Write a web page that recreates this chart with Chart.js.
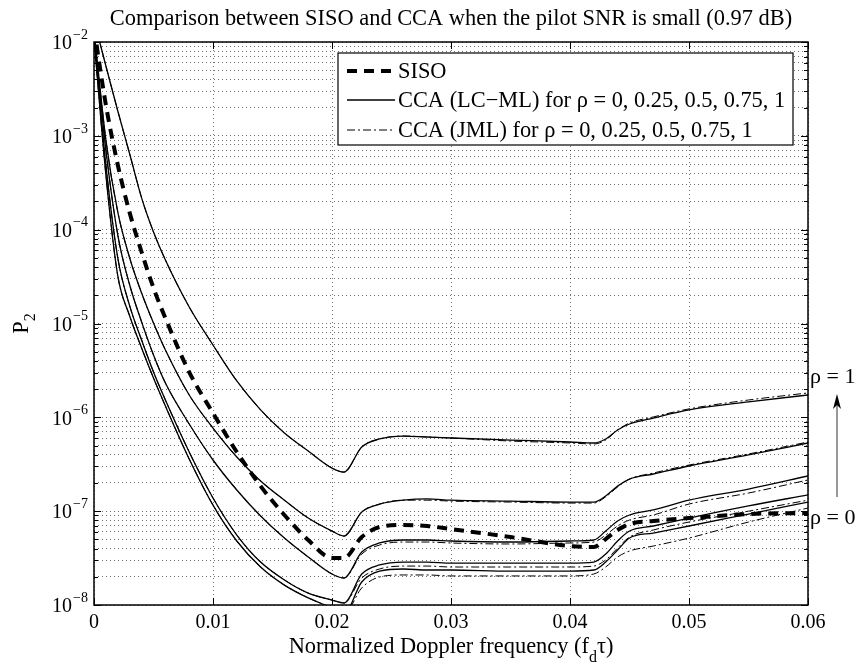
<!DOCTYPE html>
<html>
<head>
<meta charset="utf-8">
<title>P2 vs normalized Doppler frequency</title>
<script src="https://cdn.jsdelivr.net/npm/chart.js@4.4.1/dist/chart.umd.min.js"></script>
<style>
    html, body { margin: 0; padding: 0; background: #fff; }
    #wrap { width: 860px; height: 664px; }
</style>
</head>
<body>
<div id="wrap"><canvas id="p2Chart" width="860" height="664"></canvas></div>
<script>
// Normalized Doppler frequency (f_d tau) sample points
const dopplerFreq = [0, 0.001, 0.002, 0.003, 0.004, 0.005, 0.006, 0.008, 0.010, 0.012,
    0.014, 0.016, 0.018, 0.020, 0.021, 0.0225, 0.024, 0.026, 0.028, 0.030,
    0.035, 0.040, 0.042, 0.043, 0.044, 0.045, 0.047, 0.050, 0.055, 0.060];

// SISO
const siso = [1.41e-2, 2.13e-3, 4.89e-4, 1.51e-4, 5.78e-5, 2.39e-5, 1.14e-5, 3.04e-6, 1.11e-6, 4.27e-7,
    1.85e-7, 9.10e-8, 4.93e-8, 3.17e-8, 3.17e-8, 5.30e-8, 6.78e-8, 7.12e-8, 6.95e-8, 6.45e-8,
    5.30e-8, 4.25e-8, 4.15e-8, 5.05e-8, 6.30e-8, 7.29e-8, 7.85e-8, 8.45e-8, 9.32e-8, 9.56e-8];

// CCA (LC-ML), rho = 1, 0.75, 0.5, 0.25, 0
const lcml1 = [1.72e-2, 5.55e-3, 1.84e-3, 6.40e-4, 2.18e-4, 9.44e-5, 4.75e-5, 1.50e-5, 5.90e-6, 2.44e-6,
    1.20e-6, 6.81e-7, 4.38e-7, 2.88e-7, 2.61e-7, 4.83e-7, 5.88e-7, 6.32e-7, 6.17e-7, 6.02e-7,
    5.73e-7, 5.46e-7, 5.33e-7, 5.88e-7, 7.33e-7, 8.49e-7, 9.83e-7, 1.20e-6, 1.46e-6, 1.73e-6];
const lcml075 = [1.34e-2, 9.03e-4, 1.54e-4, 4.99e-5, 2.11e-5, 1.01e-5, 5.22e-6, 1.73e-6, 7.69e-7, 3.78e-7,
    2.10e-7, 1.31e-7, 8.45e-8, 6.14e-8, 5.43e-8, 9.80e-8, 1.19e-7, 1.31e-7, 1.35e-7, 1.31e-7,
    1.28e-7, 1.25e-7, 1.25e-7, 1.45e-7, 1.85e-7, 2.20e-7, 2.49e-7, 3.03e-7, 3.97e-7, 5.33e-7];
const lcml05 = [1.22e-2, 7.06e-4, 8.77e-5, 2.57e-5, 1.04e-5, 4.62e-6, 2.32e-6, 8.49e-7, 3.51e-7, 1.68e-7,
    8.88e-8, 5.17e-8, 3.25e-8, 2.14e-8, 1.94e-8, 3.67e-8, 4.58e-8, 4.93e-8, 4.93e-8, 4.81e-8,
    4.69e-8, 4.81e-8, 4.93e-8, 6.14e-8, 7.85e-8, 9.10e-8, 1.03e-7, 1.31e-7, 1.72e-7, 2.37e-7];
const lcml025 = [1.16e-2, 4.89e-4, 4.99e-5, 1.54e-5, 6.67e-6, 3.04e-6, 1.53e-6, 4.27e-7, 1.38e-7, 5.57e-8,
    2.87e-8, 1.85e-8, 1.34e-8, 1.13e-8, 1.05e-8, 2.14e-8, 2.67e-8, 2.87e-8, 2.87e-8, 2.80e-8,
    2.80e-8, 2.80e-8, 2.87e-8, 3.49e-8, 4.81e-8, 6.14e-8, 6.95e-8, 8.45e-8, 1.14e-7, 1.49e-7];
const lcml0 = [1.10e-2, 3.83e-4, 3.21e-5, 1.20e-5, 5.48e-6, 2.62e-6, 1.32e-6, 3.60e-7, 1.16e-7, 4.81e-8,
    2.54e-8, 1.63e-8, 1.19e-8, 9.29e-9, 8.01e-9, 1.76e-8, 2.30e-8, 2.42e-8, 2.36e-8, 2.36e-8,
    2.30e-8, 2.30e-8, 2.36e-8, 2.87e-8, 3.85e-8, 5.17e-8, 5.85e-8, 6.95e-8, 9.32e-8, 1.25e-7];

// CCA (JML), rho = 1, 0.75, 0.5, 0.25, 0
const jml1 = [1.72e-2, 5.55e-3, 1.84e-3, 6.40e-4, 2.18e-4, 9.44e-5, 4.75e-5, 1.50e-5, 5.90e-6, 2.44e-6,
    1.20e-6, 6.81e-7, 4.38e-7, 2.88e-7, 2.61e-7, 4.83e-7, 5.88e-7, 6.32e-7, 6.17e-7, 6.02e-7,
    5.59e-7, 5.33e-7, 5.20e-7, 5.73e-7, 7.33e-7, 8.70e-7, 1.01e-6, 1.23e-6, 1.53e-6, 1.82e-6];
const jml075 = [1.34e-2, 9.03e-4, 1.54e-4, 4.99e-5, 2.11e-5, 1.01e-5, 5.22e-6, 1.73e-6, 7.69e-7, 3.78e-7,
    2.10e-7, 1.31e-7, 8.45e-8, 6.14e-8, 5.43e-8, 9.80e-8, 1.19e-7, 1.31e-7, 1.31e-7, 1.28e-7,
    1.25e-7, 1.22e-7, 1.22e-7, 1.42e-7, 1.81e-7, 2.20e-7, 2.55e-7, 3.10e-7, 4.07e-7, 5.46e-7];
const jml05 = [1.22e-2, 7.06e-4, 8.77e-5, 2.57e-5, 1.04e-5, 4.62e-6, 2.32e-6, 8.49e-7, 3.51e-7, 1.68e-7,
    8.88e-8, 5.17e-8, 3.25e-8, 2.14e-8, 1.94e-8, 3.49e-8, 4.36e-8, 4.69e-8, 4.69e-8, 4.58e-8,
    4.47e-8, 4.58e-8, 4.69e-8, 5.57e-8, 6.95e-8, 8.05e-8, 9.10e-8, 1.19e-7, 1.56e-7, 2.15e-7];
const jml025 = [1.16e-2, 4.89e-4, 4.99e-5, 1.54e-5, 6.67e-6, 3.04e-6, 1.53e-6, 4.27e-7, 1.38e-7, 5.57e-8,
    2.87e-8, 1.85e-8, 1.34e-8, 1.13e-8, 1.05e-8, 1.94e-8, 2.42e-8, 2.60e-8, 2.60e-8, 2.54e-8,
    2.54e-8, 2.54e-8, 2.60e-8, 3.02e-8, 4.05e-8, 5.30e-8, 6.30e-8, 7.66e-8, 1.00e-7, 1.31e-7];
const jml0 = [1.10e-2, 3.83e-4, 3.21e-5, 1.20e-5, 5.48e-6, 2.62e-6, 1.32e-6, 3.60e-7, 1.16e-7, 4.81e-8,
    2.54e-8, 1.63e-8, 1.19e-8, 9.29e-9, 8.01e-9, 1.52e-8, 1.99e-8, 2.09e-8, 2.09e-8, 2.04e-8,
    2.04e-8, 2.04e-8, 2.14e-8, 2.54e-8, 3.25e-8, 3.76e-8, 4.25e-8, 5.17e-8, 7.66e-8, 1.08e-7];

// Axis ticks and labels
const xTickValues = [0, 0.01, 0.02, 0.03, 0.04, 0.05, 0.06];
const xTickLabels = ["0", "0.01", "0.02", "0.03", "0.04", "0.05", "0.06"];
const yExponents = [-8, -7, -6, -5, -4, -3, -2];
const yExpLabels = ["\u22128", "\u22127", "\u22126", "\u22125", "\u22124", "\u22123", "\u22122"];

// Texts
const titleText = "Comparison between SISO and CCA when the pilot SNR is small (0.97 dB)";
const legendTexts = [
    "SISO",
    "CCA (LC\u2212ML) for \u03c1 = 0, 0.25, 0.5, 0.75, 1",
    "CCA (JML) for \u03c1 = 0, 0.25, 0.5, 0.75, 1"
];
const rhoTop = "\u03c1 = 1";
const rhoBottom = "\u03c1 = 0";

const SERIF = "'Liberation Serif', 'Times New Roman', serif";
const TEXT_PX = 22.4;

// Minor and major log ticks: 1..9 x 10^n
const yTickValues = [];
yExponents.forEach((e) => {
    for (let m = 1; m <= 9; m++) {
        if (e === yExponents[yExponents.length - 1] && m > 1) break;
        yTickValues.push(m * Math.pow(10, e));
    }
});

const toPoints = (vals) => dopplerFreq.map((x, i) => ({ x, y: vals[i] }));

// Line styles
const DASH_SISO = [10, 7];
const DASH_JML = [8, 3, 2, 3];

const solidStyle = { borderColor: "#000", borderWidth: 1.3, borderDash: [] };
const jmlStyle = { borderColor: "#000", borderWidth: 1, borderDash: DASH_JML };

const lcmlSets = [lcml1, lcml075, lcml05, lcml025, lcml0];
const jmlSets = [jml1, jml075, jml05, jml025, jml0];

const datasets = [
    { label: "SISO", data: toPoints(siso), borderColor: "#000", borderWidth: 4, borderDash: DASH_SISO },
    ...lcmlSets.map((s, i) => ({ label: "LC-ML " + i, data: toPoints(s), ...solidStyle })),
    ...jmlSets.map((s, i) => ({ label: "JML " + i, data: toPoints(s), ...jmlStyle })),
].map((d) => ({
    ...d,
    pointRadius: 0,
    fill: false,
    clip: 0,
    cubicInterpolationMode: "monotone",
}));

// Draw frame, ticks, labels, legend and notes in MATLAB style
const decorPlugin = {
    id: "decor",
    beforeDraw(chart) {
        const { ctx, width, height } = chart;
        ctx.save();
        ctx.fillStyle = "#fff";
        ctx.fillRect(0, 0, width, height);
        ctx.restore();
    },
    afterDatasetsDraw(chart) {
        const { ctx, chartArea: a } = chart;
        const xs = chart.scales.x;
        const ys = chart.scales.y;

        const line = (x1, y1, x2, y2) => {
            ctx.beginPath();
            ctx.moveTo(x1, y1);
            ctx.lineTo(x2, y2);
            ctx.stroke();
        };

        ctx.save();
        ctx.setLineDash([]);
        ctx.strokeStyle = "#000";

        // ticks inside the box
        ctx.lineWidth = 1;
        xTickValues.forEach((v) => {
            const px = Math.round(xs.getPixelForValue(v)) + 0.5;
            line(px, a.bottom, px, a.bottom - 7);
            line(px, a.top, px, a.top + 7);
        });
        yTickValues.forEach((v) => {
            const py = Math.round(ys.getPixelForValue(v)) + 0.5;
            const lg = Math.log10(v);
            const len = Math.abs(lg - Math.round(lg)) < 1e-6 ? 7 : 4;
            line(a.left, py, a.left + len, py);
            line(a.right, py, a.right - len, py);
        });

        // box
        ctx.lineWidth = 1.5;
        ctx.strokeRect(a.left, a.top, a.right - a.left, a.bottom - a.top);

        ctx.fillStyle = "#000";

        // y tick labels 10^n
        yExponents.forEach((e, i) => {
            const py = ys.getPixelForValue(Math.pow(10, e));
            ctx.font = "14px " + SERIF;
            ctx.textAlign = "right";
            ctx.textBaseline = "middle";
            const supW = ctx.measureText(yExpLabels[i]).width;
            ctx.fillText(yExpLabels[i], a.left - 6, py - 7);
            ctx.font = "20px " + SERIF;
            ctx.fillText("10", a.left - 7 - supW, py + 2);
        });

        // title
        ctx.font = TEXT_PX + "px " + SERIF;
        ctx.textAlign = "center";
        ctx.textBaseline = "alphabetic";
        ctx.fillText(titleText, (a.left + a.right) / 2, 25);

        // x axis label with subscript
        const cx = (a.left + a.right) / 2;
        const part1 = "Normalized Doppler frequency (f";
        const part3 = "\u03c4)";
        ctx.font = TEXT_PX + "px " + SERIF;
        const w1 = ctx.measureText(part1).width;
        const w3 = ctx.measureText(part3).width;
        ctx.font = "16px " + SERIF;
        const w2 = ctx.measureText("d").width;
        const startX = cx - (w1 + w2 + w3) / 2;
        ctx.textAlign = "left";
        ctx.font = TEXT_PX + "px " + SERIF;
        ctx.fillText(part1, startX, 653);
        ctx.fillText(part3, startX + w1 + w2, 653);
        ctx.font = "16px " + SERIF;
        ctx.fillText("d", startX + w1, 662);

        // y axis label P_2
        ctx.save();
        ctx.translate(28, (a.top + a.bottom) / 2);
        ctx.rotate(-Math.PI / 2);
        ctx.font = TEXT_PX + "px " + SERIF;
        ctx.textAlign = "left";
        const wp = ctx.measureText("P").width;
        ctx.fillText("P", -(wp + 8) / 2, 0);
        ctx.font = "16px " + SERIF;
        ctx.fillText("2", -(wp + 8) / 2 + wp, 7);
        ctx.restore();

        // legend
        const L = { left: a.left + 244, top: a.top + 11, right: a.left + 699, bottom: a.top + 103 };
        ctx.fillStyle = "#fff";
        ctx.fillRect(L.left, L.top, L.right - L.left, L.bottom - L.top);
        ctx.lineWidth = 1.2;
        ctx.strokeRect(L.left, L.top, L.right - L.left, L.bottom - L.top);
        const rowY = [L.top + 18, L.top + 47, L.top + 77];
        const styles = [
            { w: 4, dash: DASH_SISO },
            { w: 1.3, dash: [] },
            { w: 1, dash: DASH_JML },
        ];
        styles.forEach((s, i) => {
            ctx.lineWidth = s.w;
            ctx.setLineDash(s.dash);
            line(L.left + 9, rowY[i], L.left + 57, rowY[i]);
        });
        ctx.setLineDash([]);
        ctx.fillStyle = "#000";
        ctx.font = TEXT_PX + "px " + SERIF;
        ctx.textAlign = "left";
        ctx.textBaseline = "middle";
        legendTexts.forEach((t, i) => ctx.fillText(t, L.left + 60, rowY[i] + 1));

        // rho annotations with arrow
        ctx.font = "22px " + SERIF;
        ctx.textAlign = "left";
        ctx.textBaseline = "middle";
        ctx.fillText(rhoTop, a.right + 2, 377);
        ctx.fillText(rhoBottom, a.right + 2, 518);
        const ax = a.right + 29;
        ctx.strokeStyle = "#555";
        ctx.lineWidth = 1.2;
        line(ax, 497, ax, 400);
        ctx.fillStyle = "#000";
        ctx.beginPath();
        ctx.moveTo(ax, 394);
        ctx.lineTo(ax + 4, 409);
        ctx.lineTo(ax, 405);
        ctx.lineTo(ax - 4, 409);
        ctx.closePath();
        ctx.fill();

        ctx.restore();
    },
};

const ctx = document.getElementById("p2Chart").getContext("2d");

new Chart(ctx, {
    type: "line",
    data: { datasets },
    options: {
        responsive: false,
        animation: false,
        devicePixelRatio: 1,
        layout: { padding: { top: 42, right: 52, left: 0, bottom: 0 } },
        plugins: {
            legend: { display: false },
            tooltip: { enabled: false },
            title: { display: false },
        },
        scales: {
            x: {
                type: "linear",
                min: 0,
                max: 0.06,
                afterBuildTicks: (scale) => {
                    scale.ticks = xTickValues.map((v) => ({ value: v }));
                },
                afterFit: (scale) => {
                    scale.height = 59;
                },
                ticks: {
                    color: "#000",
                    font: { family: SERIF, size: 20 },
                    padding: 6,
                    maxRotation: 0,
                    autoSkip: false,
                    callback: (value, index) => xTickLabels[index],
                },
                grid: { color: "rgba(0,0,0,0.55)", lineWidth: 1, drawTicks: false },
                border: { display: false, dash: [1, 3] },
            },
            y: {
                type: "logarithmic",
                min: 1e-8,
                max: 1e-2,
                afterBuildTicks: (scale) => {
                    scale.ticks = yTickValues.map((v) => ({ value: v }));
                },
                afterFit: (scale) => {
                    scale.width = 94;
                },
                ticks: { display: false },
                grid: { color: "rgba(0,0,0,0.55)", lineWidth: 1, drawTicks: false },
                border: { display: false, dash: [1, 3] },
            },
        },
    },
    plugins: [decorPlugin],
});
</script>
</body>
</html>
